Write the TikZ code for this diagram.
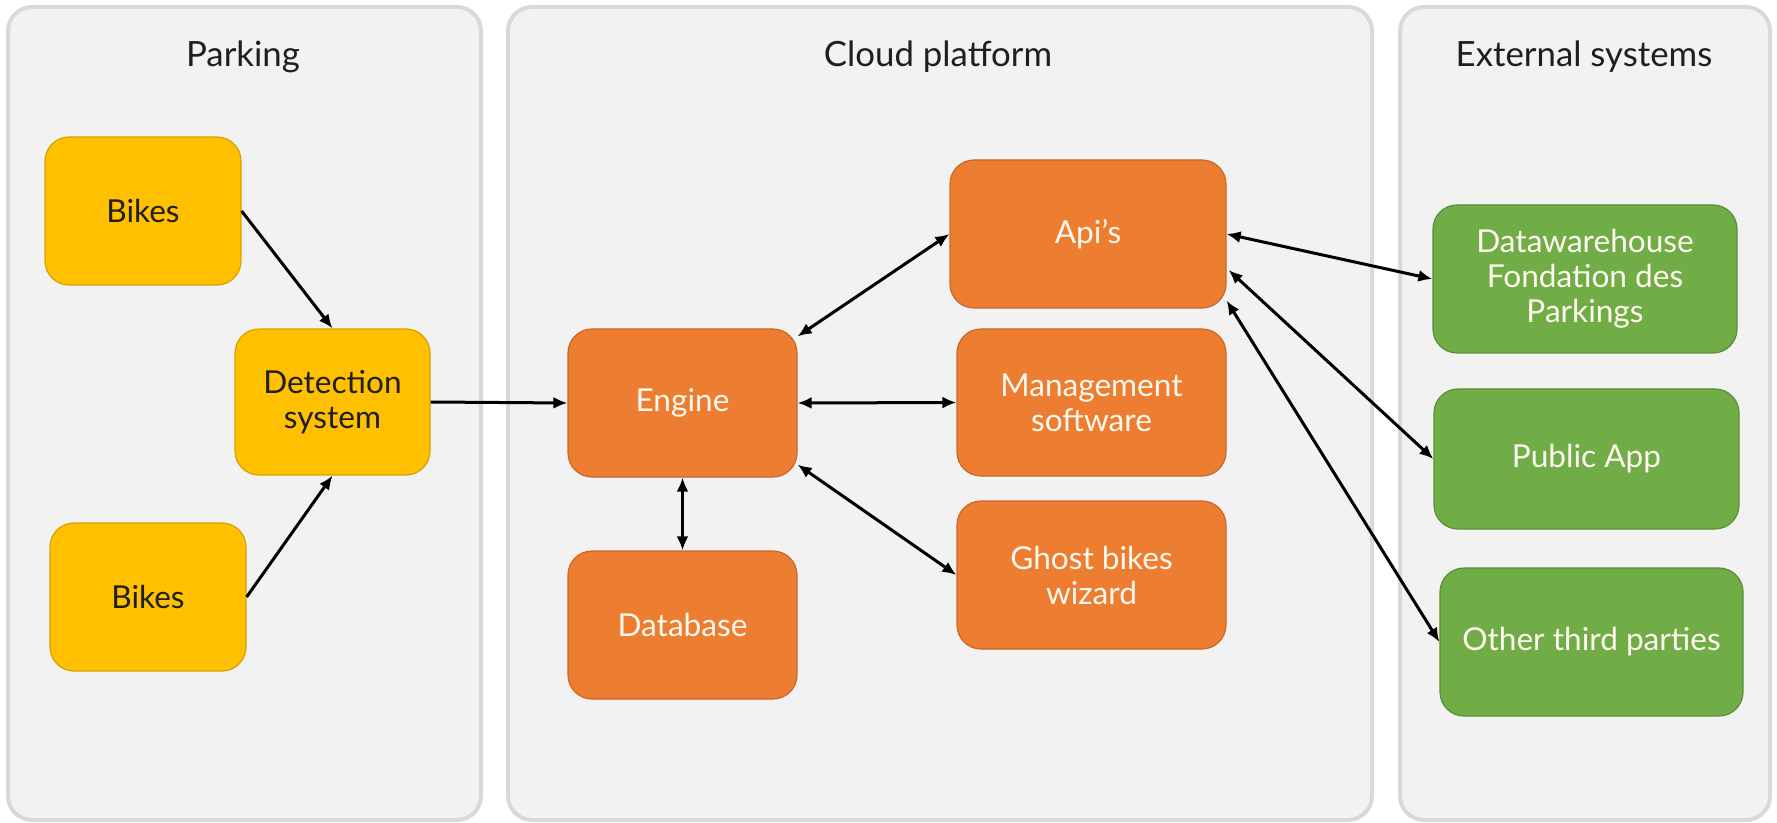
\documentclass[tikz,border=0pt]{standalone}
\usepackage{fontspec}
\setmainfont{Lato}
\usetikzlibrary{arrows.meta,calc}
\definecolor{panelfill}{HTML}{F2F2F2}
\definecolor{paneldraw}{HTML}{D9D9D9}
\definecolor{yel}{HTML}{FFC000}
\definecolor{yeld}{HTML}{D6A300}
\definecolor{org}{HTML}{ED7D31}
\definecolor{orgd}{HTML}{C9682A}
\definecolor{grn}{HTML}{70AD47}
\definecolor{grnd}{HTML}{5A8F38}
\definecolor{txt}{HTML}{1F1F1F}
\definecolor{wtxt}{HTML}{FFF8EE}
\begin{document}
\begin{tikzpicture}[x=0.5pt,y=-0.5pt,
 panel/.style={draw=paneldraw, fill=panelfill, line width=2pt, rounded corners=12pt},
 title/.style={font=\fontsize{17.4}{20}\selectfont, text=txt},
 sz/.style 2 args={minimum width=#1*0.5pt, minimum height=#2*0.5pt},
 box/.style={rectangle, rounded corners=12pt, line width=0.6pt, align=center, inner sep=0pt, font=\fontsize{15.8}{17.5}\selectfont},
 ybox/.style={box, fill=yel, draw=yeld, text=txt},
 obox/.style={box, fill=org, draw=orgd, text=wtxt},
 gbox/.style={box, fill=grn, draw=grnd, text=wtxt},
 conn/.style={line width=1.5pt, -{Latex[length=7pt,width=6pt]}},
 biconn/.style={line width=1.5pt, {Latex[length=7pt,width=6pt]}-{Latex[length=7pt,width=6pt]}},
]
\useasboundingbox (0,0) rectangle (1777,823);
\fill[white] (0,0) rectangle (1777,823);
% panels
\draw[panel] (8,7) rectangle (481,820);
\draw[panel] (508,7) rectangle (1372,820);
\draw[panel] (1400,7) rectangle (1770,820);
\node[title] (tpark) at (243,57) {Parking};
\node[title] (tcloud) at (938,57) {Cloud platform};
\node[title] (text) at (1584,57) {External systems};
% parking
\node[ybox, sz={196}{148}] (b1) at (143,211) {Bikes};
\node[ybox, sz={196}{148}] (b2) at (148,597) {Bikes};
\node[ybox, sz={195}{146}] (det) at (332.5,402) {Detection\\system};
% cloud
\node[obox, sz={229}{148}] (eng) at (682.5,403) {Engine};
\node[obox, sz={229}{148}] (db) at (682.5,625) {Database};
\node[obox, sz={276}{148}] (api) at (1088,234) {Api’s};
\node[obox, sz={269}{147}] (mgmt) at (1091.5,402.5) {Management\\software};
\node[obox, sz={269}{148}] (ghost) at (1091.5,575) {Ghost bikes\\wizard};
% external
\node[gbox, sz={304}{148}] (dw) at (1585,279) {Datawarehouse\\Fondation des\\Parkings};
\node[gbox, sz={305}{140}] (pub) at (1586.5,459) {Public App};
\node[gbox, sz={303}{148}] (oth) at (1591.5,642) {Other third parties};
% connectors
\draw[conn] (b1.east) -- (det.north);
\draw[conn] (b2.east) -- (det.south);
\draw[conn] (det.east) -- (eng.west);
\draw[biconn] ($(eng.north east)+(0,8)$) -- (api.west);
\draw[biconn] (eng.east) -- (mgmt.west);
\draw[biconn] ($(eng.south east)+(0,-13)$) -- (ghost.west);
\draw[biconn] (eng.south) -- (db.north);
\draw[biconn] (api.east) -- (dw.west);
\draw[biconn] ($(api.east)+(2,36)$) -- (pub.west);
\draw[biconn] ($(api.south east)+(0,-8)$) -- (oth.west);
\end{tikzpicture}
\end{document}
